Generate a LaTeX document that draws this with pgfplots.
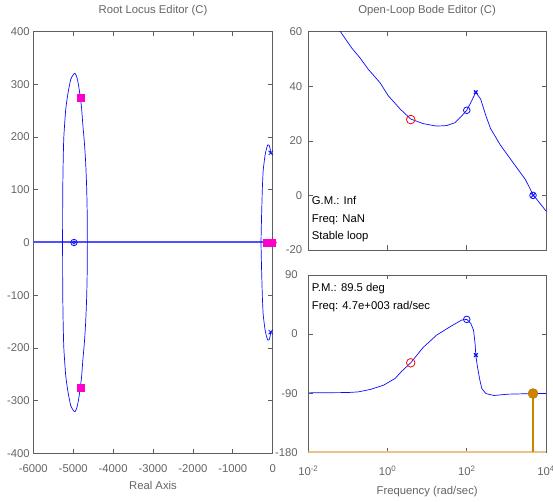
\documentclass[border=0pt]{standalone}
\usepackage{fontspec}
\setmainfont{Liberation Sans}
\usepackage{pgfplots}
\pgfplotsset{compat=1.18}
\definecolor{axgray}{RGB}{95,95,95}
\definecolor{txtgray}{RGB}{100,100,100}
\definecolor{locblue}{RGB}{10,10,255}
\definecolor{realblue}{RGB}{80,80,255}
\definecolor{mpink}{RGB}{255,0,204}
\definecolor{morange}{RGB}{204,132,0}
\definecolor{mtan}{RGB}{232,196,140}
\pgfplotsset{
  mystyle/.style={
    scale only axis,
    axis line style={axgray, line width=0.8pt},
    every tick/.style={axgray, line width=0.6pt},
    major tick length=4.5pt,
    tick align=inside,
    minor tick style={draw=none},
    font=\fontsize{11.3}{13.6}\selectfont,
    tick label style={txtgray, font=\fontsize{11.3}{13.6}\selectfont},
    title style={txtgray, at={(0.5,1)}, anchor=base, yshift=12.4pt},
    label style={txtgray},
  }
}
\begin{document}
\begin{tikzpicture}
\path[use as bounding box] (0pt,0pt) rectangle (553pt,502pt);
% ---------------- Root locus ----------------
\begin{axis}[mystyle,
  at={(33.3pt,48.7pt)}, anchor=south west,
  width=239.4pt, height=421.6pt,
  xmin=-6000, xmax=0, ymin=-400, ymax=400,
  xtick={-6000,-5000,-4000,-3000,-2000,-1000,0},
  xticklabels={-6000,-5000,-4000,-3000,-2000,-1000,0},
  ytick={-400,-300,-200,-100,0,100,200,300,400},
  yticklabels={-400,-300,-200,-100,0,100,200,300,400},
  xticklabel style={anchor=base, yshift=-19pt},
  title={Root Locus Editor (C)},
  xlabel={Real Axis},
  xlabel style={at={(axis description cs:0.5,0)}, anchor=base, yshift=-36pt},
]
\addplot[realblue, line width=2pt] coordinates {(-6000,0) (0,0)};
% big oval
\addplot[locblue, line width=0.7pt, smooth, tension=0.4] coordinates {
(-4645,0) (-4650,60) (-4665,110) (-4690,155) (-4720,190) (-4760,225) (-4790,255)
(-4830,280) (-4870,300) (-4910,314) (-4955,321) (-5000,318) (-5060,310) (-5110,292)
(-5150,274) (-5190,250) (-5235,200) (-5252,150) (-5263,90) (-5266,0)
(-5263,-90) (-5252,-150) (-5235,-200) (-5190,-250) (-5150,-274) (-5110,-292) (-5060,-310)
(-5000,-318) (-4955,-321) (-4910,-314) (-4870,-300) (-4830,-280) (-4790,-255) (-4760,-225)
(-4720,-190) (-4690,-155) (-4665,-110) (-4650,-60) (-4645,0)};
% small loop
\addplot[locblue, line width=0.7pt, smooth, tension=0.4] coordinates {
(-50,170) (-70,180) (-95,185) (-125,185) (-155,178) (-186,168) (-215,152) (-240,135)
(-258,105) (-270,75) (-282,40) (-292,0) (-282,-40) (-270,-75) (-258,-105) (-240,-135)
(-215,-152) (-186,-168) (-155,-178) (-125,-185) (-95,-185) (-70,-180) (-50,-170)};
% poles / zeros
\addplot[only marks, mark=x, mark size=3pt, locblue, mark options={line width=0.8pt}] coordinates {(-50,170) (-50,-170)};
\addplot[only marks, mark=o, mark size=3.2pt, locblue, mark options={line width=0.8pt}] coordinates {(-4980,0)};
\addplot[only marks, mark=o, mark size=1.6pt, locblue, mark options={line width=0.7pt}] coordinates {(-4980,0)};
\addplot[only marks, mark=o, mark size=3.5pt, red, mark options={line width=0.8pt}] coordinates {(0,0)};
% closed-loop poles
\addplot[only marks, mark=square*, mark size=3.7pt, mpink, mark options={draw=mpink, fill=mpink}] coordinates {(-4810,275) (-4810,-275) (-140,0) (-40,0)};
\end{axis}
% ---------------- Bode magnitude ----------------
\begin{axis}[mystyle,
  at={(308.3pt,252pt)}, anchor=south west,
  width=237.7pt, height=218.3pt,
  xmode=log, xmin=0.01, xmax=10000, ymin=-20, ymax=60,
  xtick={0.01,1,100,10000}, xticklabels={},
  ytick={-20,0,20,40,60}, yticklabels={-20,0,20,40,60},
  yticklabel style={xshift=-2.5pt},
  title={Open-Loop Bode Editor (C)},
]
\addplot[locblue, line width=0.7pt] coordinates {
(0.01,77) (0.0316,66.5) (0.0607,60.6) (0.125,54) (0.202,50.4) (0.327,46.2) (0.646,41.3)
(1.047,36.5) (2.07,31.7) (3.85,28) (7.94,26.3) (17.4,25.4) (30.9,25.6) (50.1,26.6)
(74.1,29.1) (100,31.2) (126,34) (169,37.8) (224,35.3) (302,29.3) (398,24.5) (708,18.4)
(1514,11.8) (3020,5.8) (4700,0.3) (10000,-5.7)};
\addplot[only marks, mark=o, mark size=4.3pt, red, mark options={line width=0.8pt}] coordinates {(3.85,27.8)};
\addplot[only marks, mark=o, mark size=3.3pt, locblue, mark options={line width=0.8pt}] coordinates {(100,31.2)};
\addplot[only marks, mark=x, mark size=2.6pt, locblue, mark options={line width=1.2pt}] coordinates {(169,37.8)};
\addplot[only marks, mark=otimes, mark size=3.3pt, locblue, mark options={line width=0.8pt}] coordinates {(4700,0)};
\node[anchor=base west, inner sep=0pt, xshift=3.4pt, yshift=45pt] at (axis description cs:0,0) {G.M.: Inf};
\node[anchor=base west, inner sep=0pt, xshift=3.4pt, yshift=27.7pt] at (axis description cs:0,0) {Freq: NaN};
\node[anchor=base west, inner sep=0pt, xshift=3.4pt, yshift=10.4pt] at (axis description cs:0,0) {Stable loop};
\end{axis}
% ---------------- Bode phase ----------------
\begin{axis}[mystyle,
  at={(308.3pt,49.7pt)}, anchor=south west,
  width=237.7pt, height=177.3pt,
  xmode=log, xmin=0.01, xmax=10000, ymin=-180, ymax=90,
  xtick={0.01,1,100,10000},
  xticklabels={10\textsuperscript{-2},10\textsuperscript{0},10\textsuperscript{2},10\textsuperscript{4}},
  xticklabel style={anchor=base, yshift=-23.4pt},
  ytick={-180,-90,0,90}, yticklabels={-180,-90,0,90},
  yticklabel style={xshift=-7pt},
  xlabel={Frequency (rad/sec)},
  xlabel style={at={(axis description cs:0.5,0)}, anchor=base, yshift=-42.2pt},
]
\addplot[mtan, line width=1.8pt] coordinates {(0.01,-179.2) (10000,-179.2)};
\addplot[morange, line width=1.1pt] coordinates {(4700,-90.5) (4700,-179)};
\addplot[locblue, line width=0.7pt] coordinates {
(0.01,-89.5) (0.1,-89) (0.182,-88) (0.363,-84.4) (0.794,-77.8) (1.55,-67.6) (2.24,-57)
(3.85,-43.7) (7.94,-20.3) (17.4,-1.5) (38.0,11.2) (74.1,21.4) (100,22.4) (126,16.3)
(148,6.1) (162,-14.2) (169,-32) (186,-49.8) (214,-70.1) (240,-82.9) (302,-90.5)
(490,-93.5) (1072,-91.5) (3162,-90.8) (4700,-90.5) (10000,-90.5)};
\addplot[only marks, mark=o, mark size=4.3pt, red, mark options={line width=0.8pt}] coordinates {(3.85,-43.7)};
\addplot[only marks, mark=o, mark size=3.3pt, locblue, mark options={line width=0.8pt}] coordinates {(100,22.4)};
\addplot[only marks, mark=x, mark size=2.6pt, locblue, mark options={line width=1.2pt}] coordinates {(169,-32)};
\addplot[only marks, mark=*, mark size=5pt, morange, mark options={draw=morange!85!black, fill=morange}] coordinates {(4700,-90.5)};
\node[anchor=base west, inner sep=0pt, xshift=3.4pt, yshift=-16.7pt] at (axis description cs:0,1) {P.M.: 89.5 deg};
\node[anchor=base west, inner sep=0pt, xshift=3.4pt, yshift=-34.3pt] at (axis description cs:0,1) {Freq: 4.7e+003 rad/sec};
\end{axis}
\end{tikzpicture}
\end{document}
